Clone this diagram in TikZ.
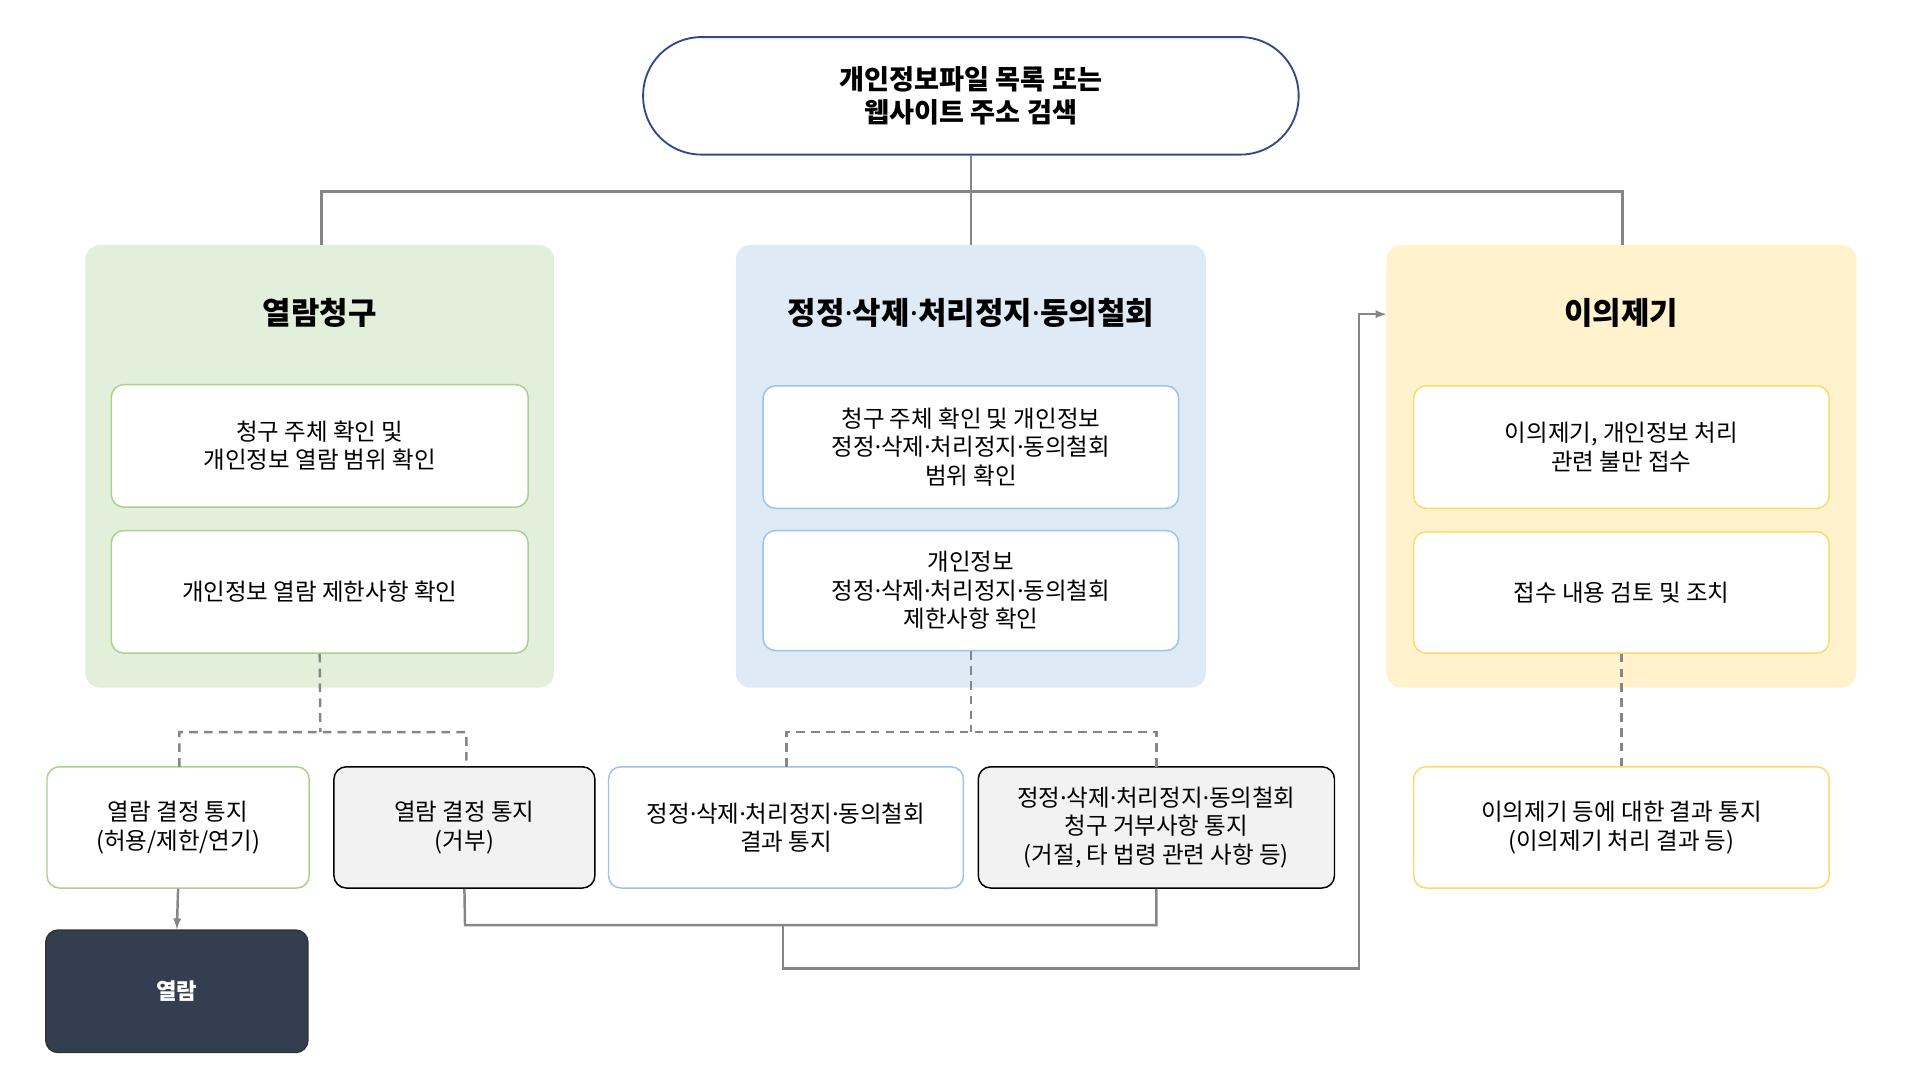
\documentclass[tikz,border=0pt]{standalone}
\usepackage{fontspec}
\setmainfont{Noto Sans CJK KR}
\newfontfamily\latinf{Noto Sans}
\newcommand{\md}{{\latinf ·}}
\begin{document}
\begin{tikzpicture}[x=1pt,y=-1pt,
 box/.style={draw,rounded corners=10pt,line width=1.2pt,fill=white,align=center,font=\fontsize{19}{23}\selectfont,inner sep=0},
 panel/.style={rounded corners=12pt,inner sep=0},
 ttl/.style={font=\fontsize{25}{28}\selectfont\bfseries},
 con/.style={draw=gray!95,line width=2pt},
 dsh/.style={draw=gray!95,line width=2pt,dash pattern=on 7pt off 5pt}]
\useasboundingbox (0,0) rectangle (1550,872);
\definecolor{gfill}{HTML}{E2EFDA}\definecolor{bfill}{HTML}{DEEAF6}\definecolor{yfill}{HTML}{FFF2CC}
\definecolor{gline}{HTML}{A9D18E}\definecolor{bline}{HTML}{9DC3E6}\definecolor{yline}{HTML}{FFD966}
\definecolor{navy}{HTML}{2F4A8A}\definecolor{dark}{HTML}{333F50}
% top
\node[draw=navy,line width=1.5pt,rounded corners=47pt,minimum width=530pt,minimum height=95pt,align=center,font=\fontsize{22}{27}\selectfont\bfseries,inner sep=0] (top) at (785,77.5) {개인정보파일 목록 또는\\웹사이트 주소 검색};
% panels
\node[panel,fill=gfill,minimum width=379pt,minimum height=358pt] (pg) at (258.5,377) {};
\node[panel,fill=bfill,minimum width=380pt,minimum height=358pt] (pb) at (785,377) {};
\node[panel,fill=yfill,minimum width=380pt,minimum height=358pt] (py) at (1311,377) {};
\node[ttl] (tg) at (258.5,253) {열람청구};
\node[ttl] (tb) at (785,253) {정정\md 삭제\md 처리정지\md 동의철회};
\node[ttl] (ty) at (1311,253) {이의제기};
\coordinate (c0) at (785,155);
\draw[con] (top.south) -- (c0) (260,198) -- (260,155) -- (1312,155) -- (1312,198) (c0) -- (pb.north);
% inner boxes
\node[box,draw=gline,minimum width=337pt,minimum height=99pt] (g1) at (258.5,360.5) {청구 주체 확인 및\\개인정보 열람 범위 확인};
\node[box,draw=gline,minimum width=337pt,minimum height=99pt] (g2) at (258.5,478.5) {개인정보 열람 제한사항 확인};
\node[box,draw=bline,minimum width=336pt,minimum height=99pt] (b1) at (785,361.5) {청구 주체 확인 및 개인정보\\정정\md 삭제\md 처리정지\md 동의철회\\범위 확인};
\node[box,draw=bline,minimum width=336pt,minimum height=97pt] (b2) at (785,477.5) {개인정보\\정정\md 삭제\md 처리정지\md 동의철회\\제한사항 확인};
\node[box,draw=yline,minimum width=336pt,minimum height=99pt] (y1) at (1311,361.5) {이의제기, 개인정보 처리\\관련 불만 접수};
\node[box,draw=yline,minimum width=336pt,minimum height=98pt] (y2) at (1311,479) {접수 내용 검토 및 조치};
% bottom
\node[box,draw=gline,minimum width=212pt,minimum height=98pt] (A) at (144,669) {열람 결정 통지\\(허용/제한/연기)};
\node[box,draw=black,fill=black!5,minimum width=211pt,minimum height=98pt] (B) at (375.5,669) {열람 결정 통지\\(거부)};
\node[box,draw=bline,minimum width=287pt,minimum height=98pt] (C) at (635.5,669) {정정\md 삭제\md 처리정지\md 동의철회\\결과 통지};
\node[box,draw=black,fill=black!5,minimum width=288pt,minimum height=98pt] (D) at (935,669) {정정\md 삭제\md 처리정지\md 동의철회\\청구 거부사항 통지\\(거절, 타 법령 관련 사항 등)};
\node[box,draw=yline,minimum width=336pt,minimum height=98pt] (E) at (1311,669) {이의제기 등에 대한 결과 통지\\(이의제기 처리 결과 등)};
\node[box,draw=black!80,fill=dark,text=white,font=\fontsize{18}{23}\selectfont\bfseries,minimum width=212pt,minimum height=99pt] (V) at (143,801.5) {열람};
% dashed
\draw[dsh] (g2.south) -- (259,592) (145,620) -- (145,592) -- (377,592) -- (377,620);
\draw[dsh] (b2.south) -- (785,592) (636,620) -- (636,592) -- (935,592) -- (935,620);
\draw[dsh] (y2.south) -- (E.north);
% solid
\draw[con,-latex] (A.south) -- (V.north);
\coordinate (m) at (633,748);
\draw[con] (B.south) -- (376,748) -- (935,748) -- (D.south);
\draw[con,-latex] (m) -- (633,783) -- (1099,783) -- (1099,254) -- (1121,254);
\end{tikzpicture}
\end{document}
